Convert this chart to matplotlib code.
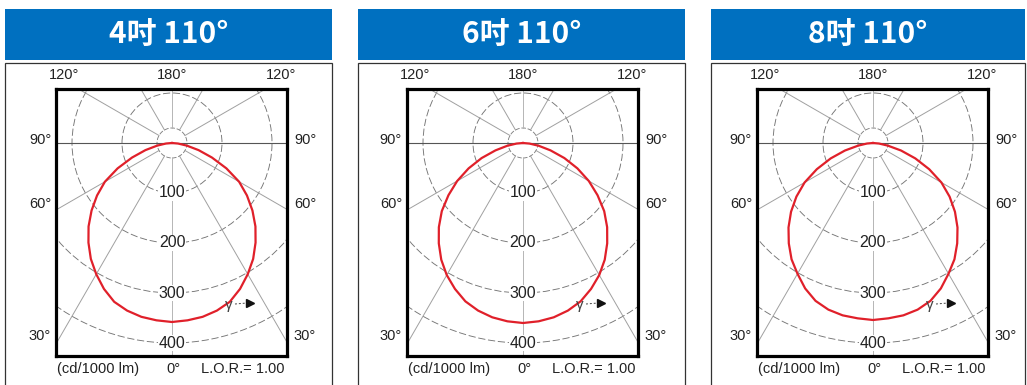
import numpy as np
import matplotlib.pyplot as plt
from matplotlib.patches import Rectangle, Circle

# Panel titles
TITLES = ['4吋 110°', '6吋 110°', '8吋 110°']

# Luminous intensity (cd/1000 lm), gamma 0..90 deg
GAMMA = [0, 5, 10, 15, 20, 25, 30, 35, 40, 45, 50, 55, 60, 65, 70, 75, 80, 85, 90]
CD_4 = [358, 356, 353, 347, 338, 322, 303, 283, 260, 236, 210, 183, 155, 120, 85, 55, 30, 12, 0]
CD_6 = [360, 358, 354, 347, 337, 322, 305, 285, 262, 238, 212, 182, 152, 120, 88, 57, 32, 13, 0]
CD_8 = [354, 352, 350, 345, 336, 321, 302, 284, 262, 239, 214, 187, 158, 124, 90, 58, 30, 12, 0]
CURVES = [CD_4, CD_6, CD_8]

RINGS = [100, 200, 300, 400]
SPOKES = [30, 60, 120, 150]

W, H = 1027, 385
# pixel layout of each panel
BOX_X0 = [5, 358, 711]
BOX_X1 = [332, 685, 1025]
INNER_X0 = [56, 407, 757]

BLUE = '#0070c0'
TXT = '#222222'
LABEL_FONT = ['Liberation Sans', 'DejaVu Sans']


def frect(x0, y0, x1, y1):
    return [x0 / W, 1 - y1 / H, (x1 - x0) / W, (y1 - y0) / H]


fig = plt.figure(figsize=(W / 100, H / 100), dpi=100)
fig.patch.set_facecolor('white')

for i, title in enumerate(TITLES):
    bx0, bx1 = BOX_X0[i], BOX_X1[i]

    # header bar
    fig.add_artist(Rectangle((bx0 / W, 1 - 60 / H), (bx1 - bx0) / W, 51 / H,
                             transform=fig.transFigure, facecolor=BLUE,
                             edgecolor='none', zorder=0))
    fig.text((bx0 + bx1) / 2 / W, 1 - 33.5 / H, title, color='white', fontsize=21.5,
             fontweight='bold', ha='center', va='center',
             family=['Noto Sans CJK SC', 'DejaVu Sans'])

    # white frame under the header
    fig.add_artist(Rectangle((bx0 / W, -0.05), (bx1 - bx0) / W, 1 - 62.5 / H + 0.05,
                             transform=fig.transFigure, facecolor='white',
                             edgecolor='#333333', lw=0.9, zorder=0))

    # polar diagram axes: 0.5 px per cd, centre 116 px from left, 54 px from top
    ix0 = INNER_X0[i]
    ax = fig.add_axes(frect(ix0, 89, ix0 + 231, 356))
    ax.set_zorder(2)
    ax.set_xlim(-232, 230)
    ax.set_ylim(-426, 108)
    ax.set_xticks([])
    ax.set_yticks([])
    for sp in ax.spines.values():
        sp.set_linewidth(2.3)
        sp.set_color('black')

    # rings
    for r in RINGS:
        ax.add_patch(Circle((0, 0), r, fill=False, ec='#757575', lw=0.65,
                            ls=(0, (8, 3)), zorder=1))
    ax.add_patch(Circle((0, 0), 30, fill=False, ec='#808080', lw=0.65,
                        ls=(0, (5, 2)), zorder=1))

    # spokes
    for a in SPOKES:
        t = np.deg2rad(a)
        for s in (-1, 1):
            ax.plot([s * 30 * np.sin(t), s * 800 * np.sin(t)],
                    [-30 * np.cos(t), -800 * np.cos(t)],
                    color='#a0a0a0', lw=0.7, zorder=1)
    ax.plot([0, 0], [-30, -800], color='#b5b5b5', lw=0.7, zorder=1)
    ax.plot([0, 0], [30, 800], color='#b5b5b5', lw=0.7, zorder=1)
    ax.axhline(0, color='#555555', lw=0.8, zorder=1)

    # ring labels
    for r in RINGS:
        ax.text(0, -r, str(r), ha='center', va='center', fontsize=11.5, color=TXT,
                family=LABEL_FONT, zorder=3,
                bbox=dict(facecolor='white', edgecolor='none', pad=0.4))

    # intensity curve, mirrored about the nadir
    g = np.array(GAMMA, dtype=float)
    c = np.array(CURVES[i], dtype=float)
    th = np.deg2rad(np.concatenate([-g[::-1], g[1:]]))
    rr = np.concatenate([c[::-1], c[1:]])
    ax.plot(rr * np.sin(th), -rr * np.cos(th), color='#e0202a', lw=1.6, zorder=4)

    # gamma arrow
    ax.text(113, -323, 'γ', fontsize=11, color='#444444', ha='center', va='center',
            family=LABEL_FONT, zorder=5)
    ax.plot([126, 150], [-322, -320], color='#444444', lw=0.7, ls=(0, (2, 2)), zorder=5)
    ax.plot([156], [-319], marker='>', ms=6, color='#111111', zorder=5)

    # angle labels around the frame
    lab = dict(fontsize=10.5, color=TXT, ha='center', va='center', family=LABEL_FONT)
    ax.text(-216, 136, '120°', **lab)
    ax.text(0, 136, '180°', **lab)
    ax.text(218, 136, '120°', **lab)
    for y, s in [(6, '90°'), (-122, '60°'), (-386, '30°')]:
        ax.text(-264, y, s, **lab)
        ax.text(266, y, s, **lab)
    bot = dict(lab, fontsize=10.5)
    ax.text(-148, -452, '(cd/1000 lm)', **bot)
    ax.text(2, -452, '0°', **bot)
    ax.text(142, -452, 'L.O.R.= 1.00', **bot)

fig.savefig('out.png', dpi=100)
